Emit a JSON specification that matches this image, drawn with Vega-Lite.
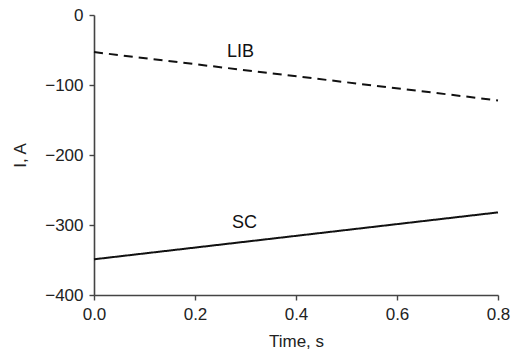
{
  "$schema": "https://vega.github.io/schema/vega-lite/v6.json",
  "width": 404,
  "height": 280,
  "autosize": {"type": "none"},
  "padding": {"left": 94, "top": 15, "right": 16, "bottom": 56},
  "background": "white",
  "config": {
    "view": {"stroke": null},
    "font": "Liberation Sans",
    "axis": {
      "domainColor": "#444444",
      "domainWidth": 1.6,
      "tickColor": "#444444",
      "tickWidth": 1.4,
      "tickSize": 5,
      "grid": false,
      "labelFlush": false,
      "labelFont": "Liberation Sans",
      "labelFontSize": 17,
      "labelColor": "#222222",
      "titleFont": "Liberation Sans",
      "titleFontSize": 17,
      "titleFontWeight": "normal",
      "titleColor": "#222222"
    }
  },
  "datasets": {
    "lines": [
      {"series": "LIB", "t": 0.0, "I": -53},
      {"series": "LIB", "t": 0.8, "I": -122},
      {"series": "SC", "t": 0.0, "I": -349},
      {"series": "SC", "t": 0.8, "I": -282}
    ],
    "labels": [
      {"name": "LIB", "t": 0.29, "I": -53},
      {"name": "SC", "t": 0.298, "I": -297}
    ]
  },
  "layer": [
    {
      "data": {"name": "lines"},
      "mark": {"type": "line", "color": "#111111", "strokeWidth": 2},
      "encoding": {
        "x": {
          "field": "t", "type": "quantitative",
          "scale": {"domain": [0, 0.8], "nice": false},
          "axis": {"values": [0, 0.2, 0.4, 0.6, 0.8], "format": ".1f", "title": "Time, s", "labelPadding": 6, "titlePadding": 11}
        },
        "y": {
          "field": "I", "type": "quantitative",
          "scale": {"domain": [-400, 0], "nice": false},
          "axis": {"values": [-400, -300, -200, -100, 0], "title": "I, A", "labelPadding": 6, "titlePadding": 15}
        },
        "detail": {"field": "series"},
        "strokeDash": {
          "field": "series", "type": "nominal",
          "scale": {"domain": ["LIB", "SC"], "range": [[9, 6], [1, 0]]},
          "legend": null
        }
      }
    },
    {
      "data": {"name": "labels"},
      "mark": {"type": "text", "font": "Liberation Sans", "fontSize": 18, "color": "#111111"},
      "encoding": {
        "x": {"field": "t", "type": "quantitative"},
        "y": {"field": "I", "type": "quantitative"},
        "text": {"field": "name"}
      }
    }
  ]
}
